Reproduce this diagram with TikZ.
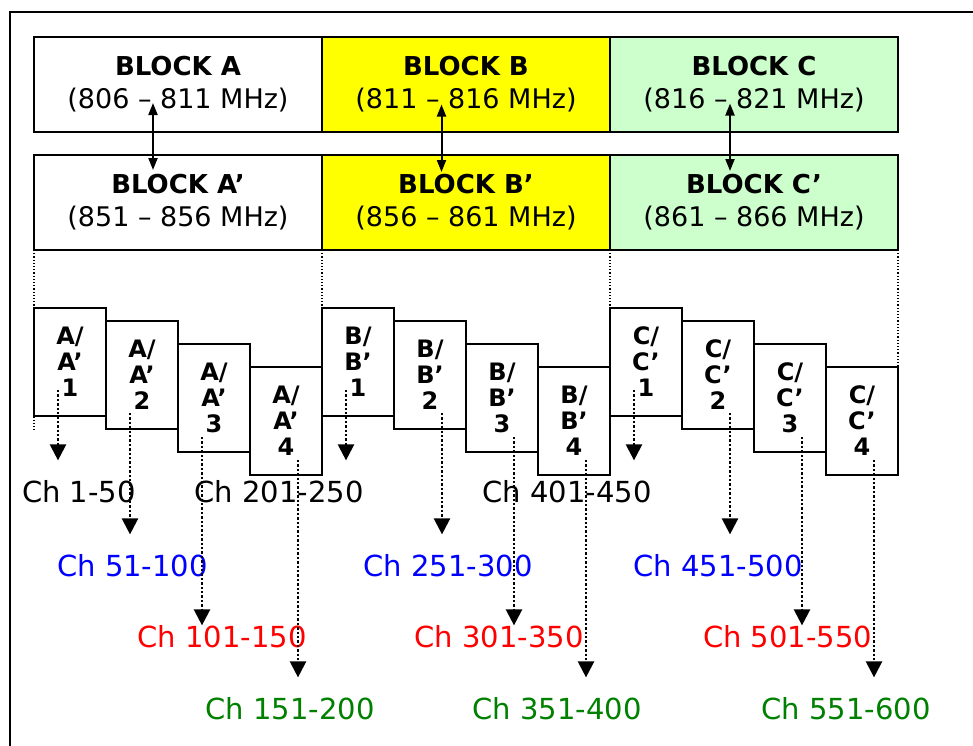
\documentclass[tikz,border=0pt]{standalone}
\usepackage{fontspec}
\setmainfont{DejaVu Sans}
\usepackage{tikz}
\usetikzlibrary{arrows.meta,positioning,calc}
\definecolor{blkyellow}{RGB}{255,255,0}
\definecolor{blkgreen}{RGB}{204,255,204}
\definecolor{chblue}{RGB}{0,0,255}
\definecolor{chred}{RGB}{255,0,0}
\definecolor{chgreen}{RGB}{0,128,0}
\newcommand{\blkname}[1]{{\fontsize{13}{16.5}\selectfont\bfseries #1}}

\begin{document}
\begin{tikzpicture}[
  x=0.5pt, y=-0.5pt,
  blk/.style={draw, line width=1pt, minimum width=144pt, minimum height=47.5pt,
              inner sep=0pt, outer sep=0pt, align=center,
              font=\fontsize{13.5}{16.5}\selectfont},
  sub/.style={draw, fill=white, line width=1pt, anchor=north, minimum width=36pt,
              minimum height=54pt, inner sep=0pt, outer sep=0pt, align=center,
              font=\fontsize{12}{13}\selectfont\bfseries},
  chan/.style={inner sep=0pt, font=\fontsize{14.5}{17}\selectfont},
  pair/.style={{Triangle[length=6pt,width=4.5pt]}-{Triangle[length=6pt,width=4.5pt]},
               line width=1pt},
  drop/.style={-{Triangle[length=8pt,width=8pt]}, densely dotted, line width=1.2pt,
               shorten >=10pt},
  guide/.style={densely dotted, line width=0.6pt}
]
\useasboundingbox (0,0) rectangle (973,745);
\draw[line width=1pt] (10,780) |- (1000,12);

% frequency blocks
\node[blk] (blkA) at (178,84.5)
  {\blkname{BLOCK A}\\(806 -- 811 MHz)};
\node[blk, fill=blkyellow, right=0pt of blkA] (blkB)
  {\blkname{BLOCK B}\\(811 -- 816 MHz)};
\node[blk, fill=blkgreen, right=0pt of blkB] (blkC)
  {\blkname{BLOCK C}\\(816 -- 821 MHz)};
\node[blk, below=11.5pt of blkA] (blkA2)
  {\blkname{BLOCK A'}\\(851 -- 856 MHz)};
\node[blk, fill=blkyellow, right=0pt of blkA2] (blkB2)
  {\blkname{BLOCK B'}\\(856 -- 861 MHz)};
\node[blk, fill=blkgreen, right=0pt of blkB2] (blkC2)
  {\blkname{BLOCK C'}\\(861 -- 866 MHz)};
\draw[pair] ($(blkA.center)+(-25,18.5)$) -- ($(blkA2.north)+(-25,15)$);
\draw[pair] ($(blkB.center)+(-24.5,20)$) -- ($(blkB2.north)+(-24.5,17)$);
\draw[pair] ($(blkC.center)+(-24,19)$) -- ($(blkC2.north)+(-24,16)$);

\draw[guide] (blkA2.south west) -- ++(0,182);
\draw[guide] (blkB2.south west) -- ++(0,182);
\draw[guide] (blkC2.south west) -- ++(0,182);
\draw[guide] (blkC2.south east) -- ++(0,182);

% sub-blocks
\node[sub] (a1) at (70,308) {A/\\A'\\1};
\node[sub] (a2) at (142,320.5) {A/\\A'\\2};
\node[sub] (a3) at (214,344) {A/\\A'\\3};
\node[sub] (a4) at (286,367) {A/\\A'\\4};
\node[sub] (b1) at (358,308) {B/\\B'\\1};
\node[sub] (b2) at (430,320.5) {B/\\B'\\2};
\node[sub] (b3) at (502,344) {B/\\B'\\3};
\node[sub] (b4) at (574,367) {B/\\B'\\4};
\node[sub] (c1) at (646,308) {C/\\C'\\1};
\node[sub] (c2) at (718,320.5) {C/\\C'\\2};
\node[sub] (c3) at (790,344) {C/\\C'\\3};
\node[sub] (c4) at (862,367) {C/\\C'\\4};

% channel ranges
\node[chan] (la1) at (79,492) {Ch 1-50};
\node[chan, text=chblue] (la2) at (132.5,566) {Ch 51-100};
\node[chan, text=chred] (la3) at (222,637) {Ch 101-150};
\node[chan, text=chgreen] (la4) at (290,709) {Ch 151-200};
\node[chan] (lb1) at (279,492) {Ch 201-250};
\node[chan, text=chblue] (lb2) at (448,566) {Ch 251-300};
\node[chan, text=chred] (lb3) at (499,637) {Ch 301-350};
\node[chan, text=chgreen] (lb4) at (557,709) {Ch 351-400};
\node[chan] (lc1) at (567,492) {Ch 401-450};
\node[chan, text=chblue] (lc2) at (718,566) {Ch 451-500};
\node[chan, text=chred] (lc3) at (787.5,637) {Ch 501-550};
\node[chan, text=chgreen] (lc4) at (846,709) {Ch 551-600};

\draw[drop] ($(a1.center)+(-12,28)$) -- ($(a1.center |- la1.north)+(-12,0)$);
\draw[drop] ($(a2.center)+(-12,38.5)$) -- ($(a2.center |- la2.north)+(-12,0)$);
\draw[drop, shorten >=0pt] ($(a3.center)+(-12,39)$) -- ($(a3.center |- la3.north)+(-12,0)$);
\draw[drop] ($(a4.center)+(12,39)$) -- ($(a4.center |- la4.north)+(12,0)$);
\draw[drop] ($(b1.center)+(-12,28)$) -- ($(b1.center |- lb1.north)+(-12,0)$);
\draw[drop] ($(b2.center)+(12,38.5)$) -- ($(b2.center |- lb2.north)+(12,0)$);
\draw[drop, shorten >=0pt] ($(b3.center)+(12,39)$) -- ($(b3.center |- lb3.north)+(12,0)$);
\draw[drop] ($(b4.center)+(12,39)$) -- ($(b4.center |- lb4.north)+(12,0)$);
\draw[drop] ($(c1.center)+(-12,28)$) -- ($(c1.center |- lc1.north)+(-12,0)$);
\draw[drop] ($(c2.center)+(12,38.5)$) -- ($(c2.center |- lc2.north)+(12,0)$);
\draw[drop, shorten >=0pt] ($(c3.center)+(12,39)$) -- ($(c3.center |- lc3.north)+(12,0)$);
\draw[drop] ($(c4.center)+(12,39)$) -- ($(c4.center |- lc4.north)+(12,0)$);
\end{tikzpicture}
\end{document}
